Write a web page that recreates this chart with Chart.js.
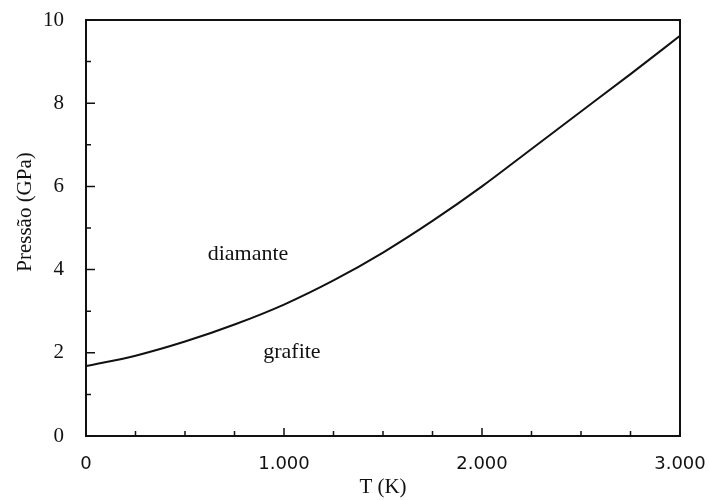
<!DOCTYPE html>
<html>
<head>
<meta charset="utf-8">
<script src="https://cdn.jsdelivr.net/npm/chart.js@4/dist/chart.umd.min.js"></script>
<style>
  html, body { margin: 0; padding: 0; background: #fff; }
  #wrap { width: 709px; height: 500px; }
</style>
</head>
<body>
<div id="wrap"><canvas id="c" width="709" height="500"></canvas></div>
<script>
// Graphite / diamond equilibrium line
const temperatures = [0, 250, 500, 750, 1000, 1250, 1500, 1750, 2000, 2250, 2500, 2750, 3000];
const pressures = [1.68, 1.93, 2.27, 2.68, 3.16, 3.74, 4.41, 5.17, 6.0, 6.9, 7.8, 8.7, 9.62];

const xTickValues = [0, 1000, 2000, 3000];
const xMinorValues = [250, 500, 750, 1250, 1500, 1750, 2250, 2500, 2750];
const yTickValues = [0, 2, 4, 6, 8, 10];
const yMinorValues = [1, 3, 5, 7, 9];

const phaseLabels = ['diamante', 'grafite'];
const phaseLabelT = [818, 1040];
const phaseLabelP = [4.38, 2.02];

const xTitle = 'T (K)';
const yTitle = 'Pressão (GPa)';

const ink = '#111';
const serif = '"Liberation Serif", "DejaVu Serif", serif';
const sans = '"DejaVu Sans", Verdana, sans-serif';

const framePlugin = {
  id: 'frameAndTicks',
  afterDraw(chart) {
    const { ctx, chartArea: a, scales } = chart;
    const xs = scales.x, ys = scales.y;
    ctx.save();
    ctx.strokeStyle = ink;
    ctx.lineWidth = 2;
    ctx.strokeRect(a.left, a.top, a.right - a.left, a.bottom - a.top);

    ctx.lineWidth = 1.5;
    ctx.beginPath();
    xTickValues.forEach(v => {
      const px = xs.getPixelForValue(v);
      ctx.moveTo(px, a.bottom); ctx.lineTo(px, a.bottom - 8);
    });
    xMinorValues.forEach(v => {
      const px = xs.getPixelForValue(v);
      ctx.moveTo(px, a.bottom); ctx.lineTo(px, a.bottom - 5);
    });
    yTickValues.forEach(v => {
      const py = ys.getPixelForValue(v);
      ctx.moveTo(a.left, py); ctx.lineTo(a.left + 9, py);
    });
    yMinorValues.forEach(v => {
      const py = ys.getPixelForValue(v);
      ctx.moveTo(a.left, py); ctx.lineTo(a.left + 5, py);
    });
    ctx.stroke();

    // phase region labels
    ctx.fillStyle = ink;
    ctx.font = '22px ' + serif;
    ctx.textAlign = 'center';
    ctx.textBaseline = 'middle';
    phaseLabels.forEach((t, i) => {
      ctx.fillText(t, xs.getPixelForValue(phaseLabelT[i]), ys.getPixelForValue(phaseLabelP[i]));
    });

    // vertical axis title
    ctx.font = '21px ' + serif;
    ctx.translate(25, (a.top + a.bottom) / 2 - 16);
    ctx.rotate(-Math.PI / 2);
    ctx.fillText(yTitle, 0, 0);
    ctx.restore();
  }
};

new Chart(document.getElementById('c'), {
  type: 'line',
  data: {
    datasets: [{
      data: temperatures.map((t, i) => ({ x: t, y: pressures[i] })),
      borderColor: ink,
      borderWidth: 2,
      pointRadius: 0,
      fill: false,
      cubicInterpolationMode: 'monotone'
    }]
  },
  options: {
    responsive: false,
    animation: false,
    devicePixelRatio: 1,
    layout: { padding: { left: 0, top: 20, right: 29, bottom: 0 } },
    plugins: { legend: { display: false }, tooltip: { enabled: false } },
    scales: {
      x: {
        type: 'linear',
        min: 0, max: 3000,
        afterFit(s) { s.height = 64; s.paddingLeft = 0; s.paddingRight = 0; },
        afterBuildTicks(s) { s.ticks = xTickValues.map(v => ({ value: v })); },
        grid: { display: false },
        border: { display: false },
        ticks: {
          padding: 10,
          color: ink,
          font: { family: sans, size: 18 },
          maxRotation: 0,
          callback: v => v === 0 ? '0' : (v / 1000) + '.000'
        },
        title: {
          display: true,
          text: xTitle,
          color: ink,
          font: { family: serif, size: 21 },
          padding: { top: 6, bottom: 0 }
        }
      },
      y: {
        type: 'linear',
        min: 0, max: 10,
        afterFit(s) { s.width = 86; s.paddingTop = 0; s.paddingBottom = 0; },
        afterBuildTicks(s) { s.ticks = yTickValues.map(v => ({ value: v })); },
        grid: { display: false },
        border: { display: false },
        ticks: {
          padding: 14,
          color: ink,
          font: { family: serif, size: 21 }
        }
      }
    }
  },
  plugins: [framePlugin]
});
</script>
</body>
</html>
